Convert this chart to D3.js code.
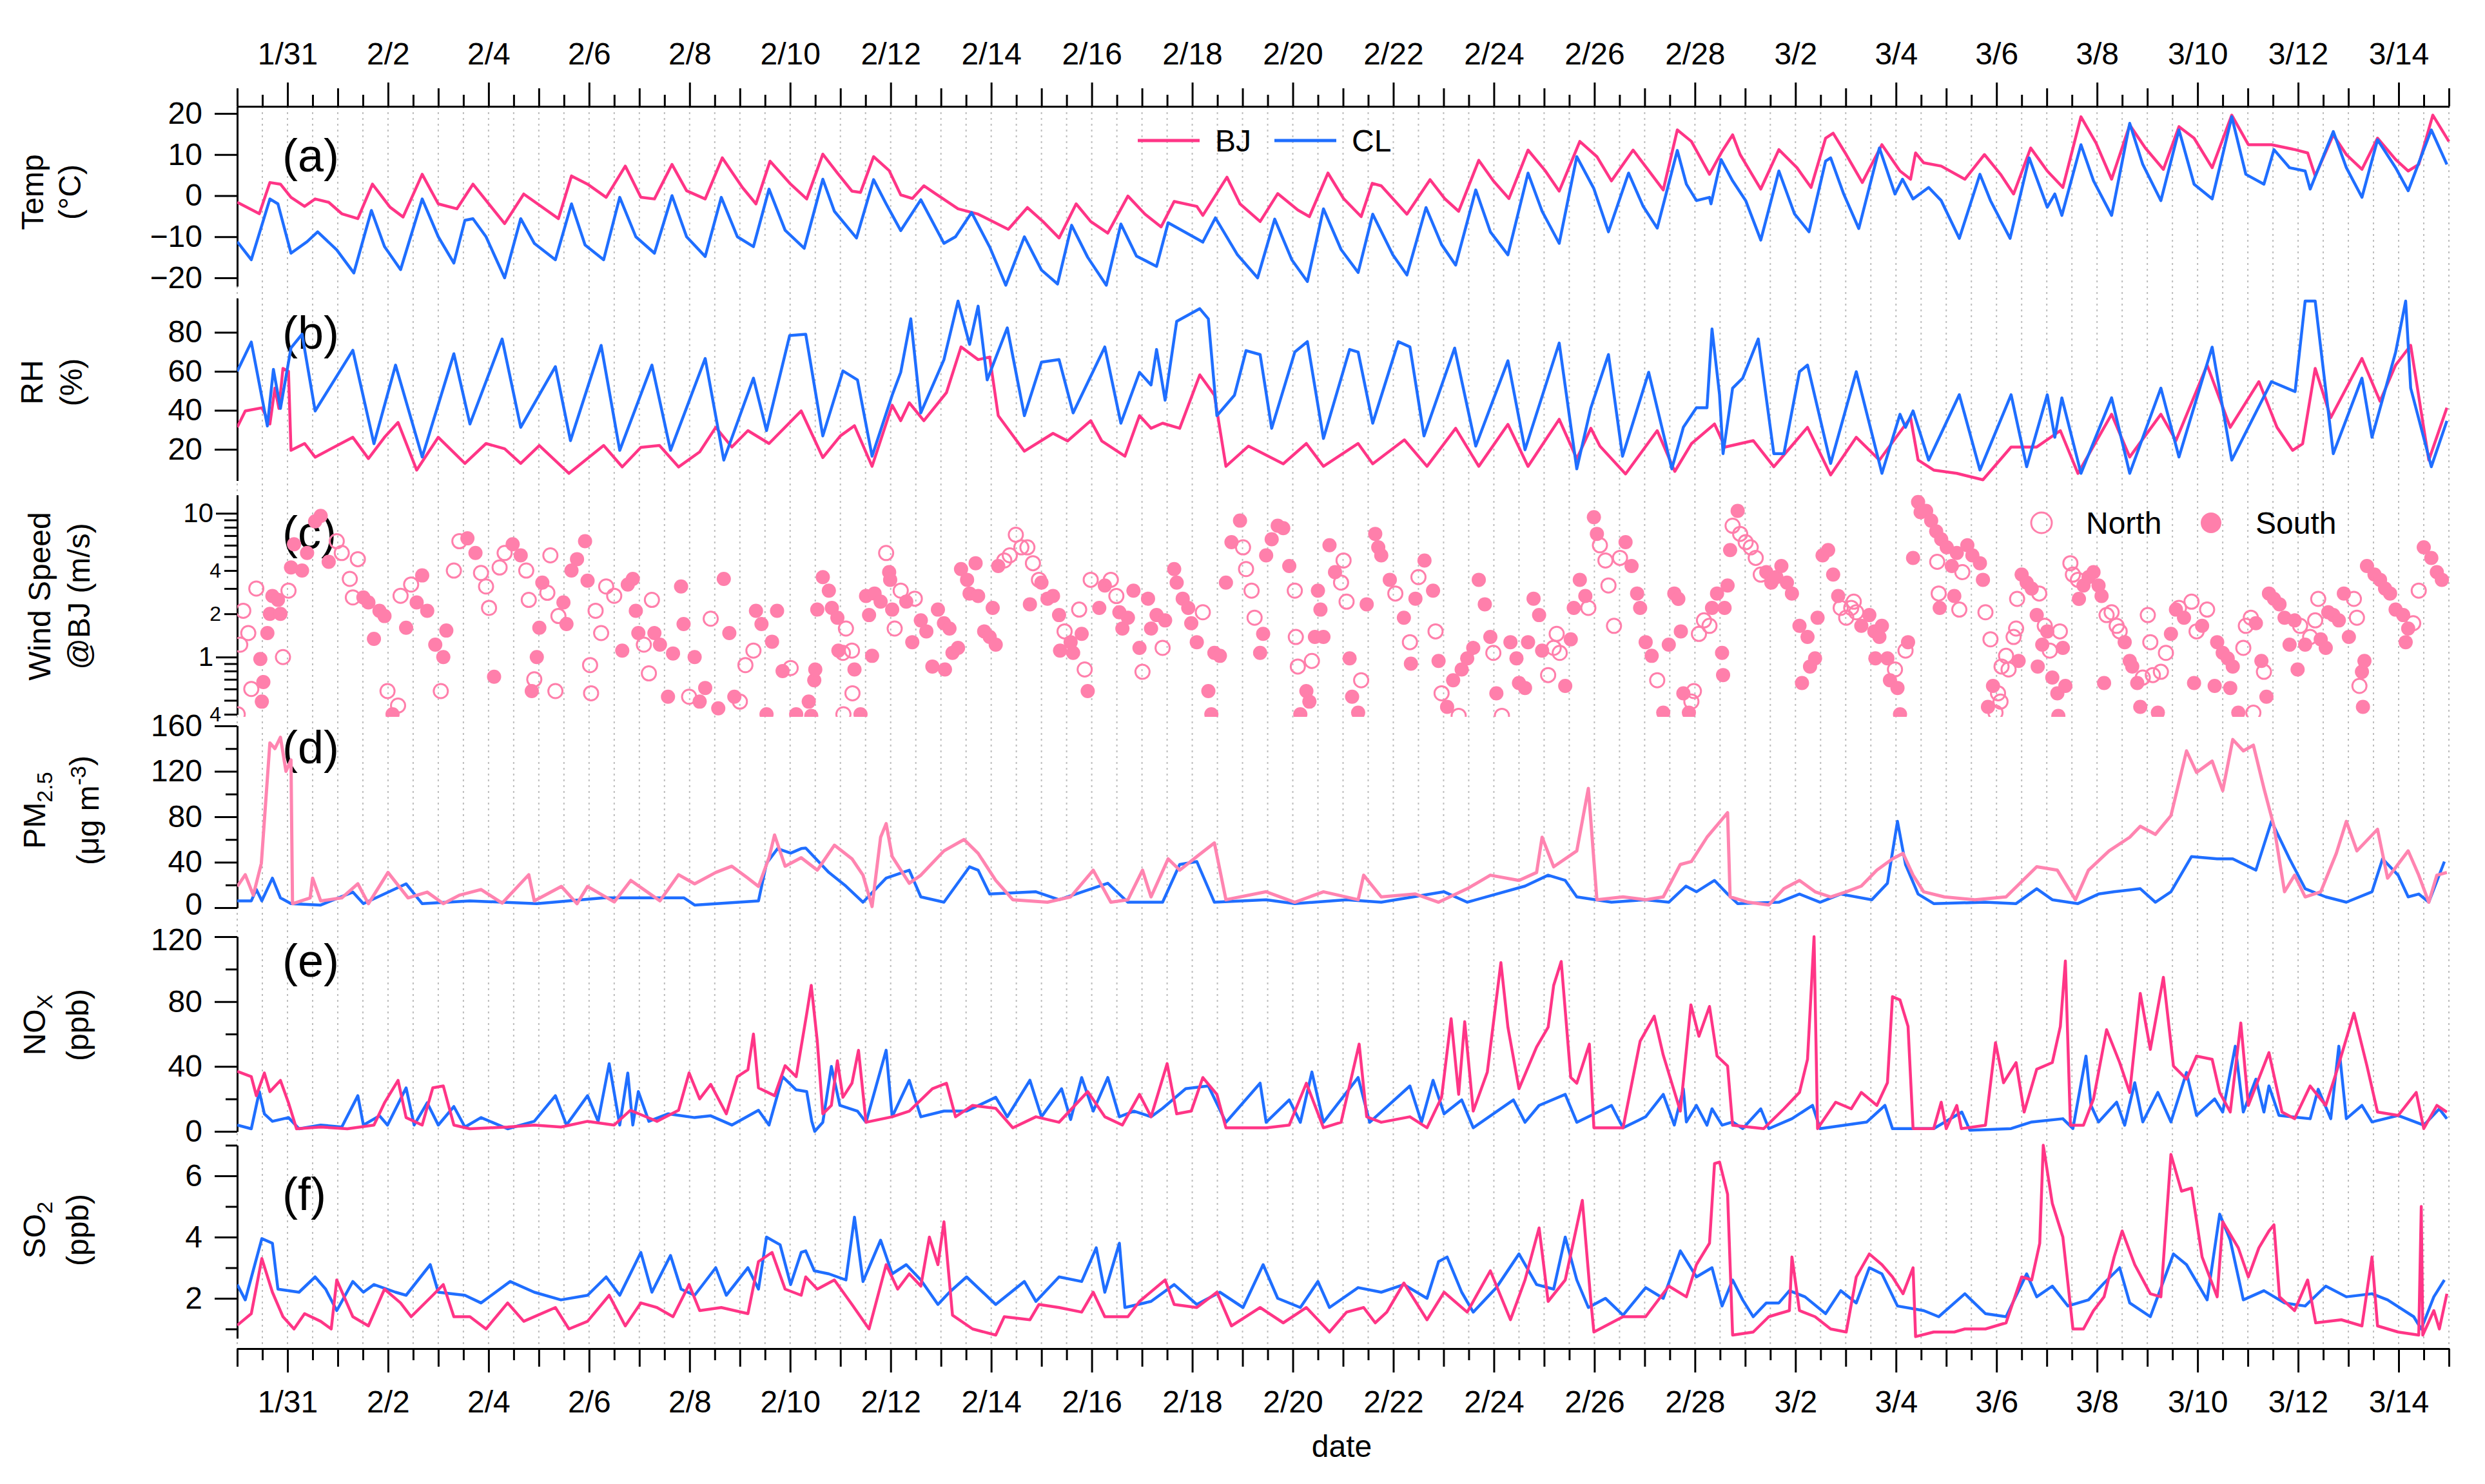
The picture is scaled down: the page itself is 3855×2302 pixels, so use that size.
<!DOCTYPE html>
<html><head><meta charset="utf-8">
<script src="https://cdn.jsdelivr.net/npm/d3@7"></script>
<style>
body{margin:0;background:#fff}
text{font-family:Arial,"Liberation Sans",sans-serif;fill:#000}
</style></head>
<body><svg id="c" width="3855" height="2302"></svg>
<script>
// ---------- data (day offset since 1/30 00:00, value) ----------
const tempBJ=[[0,-1.6],[0.44,-4.4],[0.65,3.2],[0.86,2.8],[1.07,-0.4],[1.34,-2.6],[1.55,-0.8],[1.82,-1.6],[2.08,-4.4],[2.4,-5.6],[2.69,2.8],[3.04,-2.8],[3.3,-5.2],[3.68,5.2],[4.0,-2],[4.37,-3.2],[4.69,2.8],[5.32,-6.8],[5.7,0.4],[6.39,-5.6],[6.65,4.8],[6.97,2.8],[7.34,-0.4],[7.72,7.2],[8.03,-0.4],[8.3,-0.8],[8.65,7.6],[8.94,1.2],[9.31,-0.8],[9.65,9.2],[10.05,2],[10.32,-2],[10.6,8.4],[11.01,2.8],[11.33,-0.8],[11.65,10.1],[11.94,5.5],[12.23,1.1],[12.4,0.8],[12.66,9.5],[12.97,6.1],[13.2,0.2],[13.43,-0.7],[13.66,2.4],[13.89,0.5],[14.34,-3.2],[14.74,-4.5],[15.34,-8.2],[15.72,-2.9],[16.03,-6.3],[16.35,-10.3],[16.69,-2],[16.98,-6.3],[17.32,-9.1],[17.72,-0.1],[18.06,-4.5],[18.38,-7.6],[18.64,-1.4],[19.09,-2.6],[19.21,-4.8],[19.69,4.5],[19.95,-2],[20.35,-6.3],[20.7,0.5],[21.1,-3.5],[21.33,-5.1],[21.7,5.5],[22.01,-0.7],[22.36,-5.1],[22.58,3],[22.76,2.4],[23.27,-4.5],[23.73,3.9],[24.02,-0.7],[24.3,-3.8],[24.7,8.6],[24.99,3.6],[25.3,-0.7],[25.68,11.1],[26.02,6.1],[26.3,1.1],[26.71,13.2],[27.05,9.5],[27.34,3.6],[27.77,11.1],[28.08,6.1],[28.37,1.4],[28.65,16],[28.93,13.2],[29.29,5.2],[29.54,10.8],[29.75,14.8],[29.9,10],[30.31,1.6],[30.67,11.2],[31.03,6.8],[31.31,2],[31.6,14],[31.75,15.2],[32.01,10],[32.33,3.2],[32.72,12.4],[33.08,6],[33.29,4],[33.39,10.4],[33.55,8],[33.9,7.2],[34.37,4],[34.76,10],[35.08,5.2],[35.34,0.4],[35.68,11.6],[36.01,6],[36.32,2],[36.68,19.2],[36.98,12.8],[37.29,4],[37.65,17.2],[37.96,11.6],[38.32,6.4],[38.63,16.8],[38.93,14],[39.29,6.8],[39.68,19.6],[40.01,12.4],[40.47,12.4],[40.94,11.2],[41.19,10.4],[41.34,4.8],[41.7,14.8],[41.96,10],[42.27,6.4],[42.58,14],[42.94,8.8],[43.19,6],[43.4,7.6],[43.68,19.6],[44,13.2]];
const tempCL=[[0,-11.2],[0.28,-15.6],[0.65,-0.8],[0.81,-2],[1.07,-14],[1.39,-11.2],[1.6,-8.8],[1.98,-13.2],[2.32,-18.8],[2.67,-3.6],[2.93,-12.4],[3.25,-18],[3.68,-0.8],[4.0,-10],[4.31,-16.4],[4.53,-6],[4.69,-5.6],[4.95,-10],[5.32,-20],[5.64,-5.6],[5.91,-11.6],[6.33,-15.6],[6.65,-2],[6.92,-12],[7.29,-15.6],[7.61,-0.4],[7.93,-10],[8.3,-14],[8.65,0],[8.94,-10],[9.31,-14.8],[9.63,-0.4],[9.95,-10],[10.27,-12.4],[10.58,1.6],[10.9,-8.4],[11.28,-12.8],[11.65,4],[11.88,-3.8],[12.32,-10.3],[12.66,3.9],[12.91,-2],[13.2,-8.5],[13.6,-1],[14.06,-11.6],[14.29,-10],[14.61,-4.1],[14.97,-12.5],[15.29,-21.8],[15.66,-10],[16,-18.1],[16.32,-21.5],[16.6,-7.2],[16.92,-15],[17.29,-21.8],[17.58,-6.9],[17.89,-14.7],[18.29,-17.2],[18.52,-6.6],[19.21,-11.3],[19.46,-5.4],[19.9,-14.4],[20.3,-20],[20.64,-5.7],[20.98,-15.6],[21.29,-20.9],[21.61,-3.2],[21.96,-13.1],[22.3,-18.7],[22.59,-4.5],[22.99,-14.4],[23.27,-19.3],[23.65,-2.9],[23.96,-11.9],[24.24,-16.9],[24.64,1.4],[24.93,-8.8],[25.28,-14.4],[25.68,5.5],[25.96,-3.8],[26.3,-11.6],[26.65,9.5],[26.99,1.7],[27.28,-8.8],[27.68,5.5],[27.97,-2.6],[28.25,-7.9],[28.65,11],[28.83,2.8],[29.03,-1.2],[29.29,-0.4],[29.32,-2],[29.52,8.8],[29.75,3.6],[30.01,-1.2],[30.31,-10.8],[30.67,6],[30.98,-4.4],[31.27,-8.8],[31.6,8.4],[31.7,9.2],[31.96,0.4],[32.26,-8],[32.67,11.6],[32.98,0.4],[33.13,4],[33.34,-0.8],[33.65,2],[33.9,-1.2],[34.26,-10.4],[34.67,5.2],[34.88,-1.2],[35.27,-10.4],[35.65,9.2],[36.01,-2.8],[36.16,0.4],[36.3,-4.8],[36.68,12.4],[36.93,3.6],[37.29,-4.8],[37.65,17.6],[37.91,7.6],[38.27,-1.2],[38.63,16],[38.93,2.8],[39.29,-0.8],[39.68,19.2],[39.96,5.2],[40.32,2.8],[40.52,11.2],[40.83,6.8],[41.14,6],[41.24,1.6],[41.7,15.6],[41.96,6.8],[42.27,-0.4],[42.58,13.6],[42.94,6.8],[43.19,1.2],[43.65,16],[43.96,7.6]];
const rhBJ=[[0,31.3],[0.16,39.7],[0.49,41.3],[0.65,33],[0.75,51.4],[0.83,41],[0.91,61.5],[1.02,60],[1.07,19.5],[1.34,23],[1.55,16],[2.3,26.2],[2.61,15.3],[2.93,26.2],[3.2,33.8],[3.57,9.4],[4.0,26.2],[4.53,12.8],[4.95,23],[5.32,20.3],[5.64,12.8],[6.01,22],[6.6,7.7],[7.29,22],[7.66,11],[8.03,21],[8.4,22],[8.78,11],[9.2,18.7],[9.52,31.3],[9.84,21.2],[10.16,29.6],[10.58,23],[11.22,39.7],[11.65,15.8],[12,26.9],[12.28,32.1],[12.63,11.3],[13.03,42.6],[13.2,34.7],[13.37,43.9],[13.66,34.7],[14.11,49.1],[14.4,72.5],[14.74,66],[14.97,67.3],[15.14,37.3],[15.66,19.1],[16.23,28.2],[16.52,24.3],[16.98,34.7],[17.2,24.3],[17.66,16.5],[17.95,37.3],[18.18,30.8],[18.41,33.4],[18.75,30.8],[19.15,58.2],[19.44,47.8],[19.67,11.3],[20.12,21.7],[20.81,12.6],[21.27,23],[21.61,11.3],[22.3,23],[22.59,12.6],[23.22,24.9],[23.67,11.3],[24.24,30.8],[24.7,11.3],[25.28,32.8],[25.68,11.3],[26.3,35.4],[26.65,15.2],[26.93,30.8],[27.11,21.7],[27.62,7.4],[28.25,29.6],[28.6,8.7],[28.93,22.9],[29.39,33],[29.6,21.2],[30.16,24.5],[30.57,11.1],[31.24,31.3],[31.7,6.9],[32.21,26.2],[32.67,14.5],[33.29,36.3],[33.44,14.5],[33.75,9.4],[34.21,7.7],[34.73,4.4],[35.29,21.2],[35.8,21.2],[36.27,29.6],[36.62,7.7],[37.29,38],[37.65,16.1],[38.27,38],[38.57,24.5],[39.19,63.2],[39.65,31.3],[40.22,54.7],[40.58,31.3],[40.89,19.5],[41.09,22.9],[41.34,61.5],[41.65,36.3],[42.27,66.6],[42.63,44.7],[42.94,63.2],[43.24,73.3],[43.6,14.5],[43.96,41.3]];
const rhCL=[[0,60],[0.28,75],[0.6,32],[0.72,61],[0.86,41],[1.07,72],[1.29,79],[1.55,39.7],[2.3,70.8],[2.72,22.9],[3.15,63.2],[3.68,16.1],[4.31,69],[4.63,33],[5.27,76.6],[5.64,31.3],[6.33,62.4],[6.63,24.5],[7.24,73.3],[7.61,19.5],[8.25,63.2],[8.62,19.5],[9.31,66.6],[9.68,14.5],[10.27,56.5],[10.53,29.6],[10.99,78.3],[11.31,79],[11.65,26.9],[12.05,60.2],[12.34,55.6],[12.63,16.5],[13.03,47.8],[13.2,59.5],[13.4,86.9],[13.6,38.7],[14.06,66],[14.34,96],[14.57,73.8],[14.74,93.4],[14.92,55.6],[15.32,82.3],[15.66,37.3],[16,64.7],[16.35,66],[16.63,38.7],[17.26,72.5],[17.58,33.4],[17.95,59.5],[18.18,53],[18.29,71.2],[18.46,45.2],[18.69,85.6],[19.15,92.1],[19.32,86.9],[19.49,37.3],[19.84,47.8],[20.07,70.6],[20.35,68.6],[20.58,30.8],[21.04,69.9],[21.29,75.2],[21.61,25.6],[22.13,71.2],[22.3,69.9],[22.59,33.4],[23.1,75.2],[23.33,72.5],[23.61,26.9],[24.22,71.9],[24.64,21.7],[25.28,65.4],[25.62,19.8],[26.3,74.5],[26.65,10],[26.93,41.3],[27.28,68.6],[27.56,16.5],[28.08,59.5],[28.54,10],[28.77,31.3],[29.03,41.3],[29.24,41.3],[29.34,81.7],[29.49,48],[29.56,17.8],[29.75,51.4],[29.95,56.5],[30.26,76.6],[30.57,17.8],[30.77,17.8],[31.08,59.8],[31.24,63.2],[31.7,12.8],[32.21,59.8],[32.72,7.7],[33.08,38],[33.19,31.3],[33.34,39.7],[33.65,14.5],[34.26,48],[34.67,9.4],[35.29,48],[35.6,11.1],[36.01,48],[36.16,26.2],[36.3,46.4],[36.68,7.7],[37.29,46.4],[37.65,7.7],[38.27,51.4],[38.63,16.1],[39.29,72.4],[39.68,14.5],[40.47,54.7],[40.94,49.6],[41.14,96],[41.34,96],[41.7,17.8],[42.27,56.5],[42.47,26.2],[42.94,69.8],[43.14,96],[43.24,51.4],[43.65,11.1],[43.96,34.6]];
const windObs=[ // [day, speed m/s, 1 = South (filled), 0 = North (open)]
[0.01,0.4,0],[0.06,1.22,0],[0.12,2.1,0],[0.22,1.47,0],[0.28,0.6,0],[0.38,3.0,0],[0.46,0.97,1],[0.49,0.49,1],[0.52,0.67,1],[0.6,1.47,1],[0.65,2.0,1],[0.7,2.66,1],[0.81,2.5,1],[0.86,2.0,1],[0.91,1.0,0],[1.02,2.9,0],[1.07,4.2,1],[1.13,6.1,1],[1.29,4.0,1],[1.39,5.3,1],[1.55,8.8,1],[1.66,9.6,1],[1.82,4.6,1],[1.98,6.4,0],[2.08,5.3,0],[2.24,3.5,0],[2.3,2.6,0],[2.4,4.8,0],[2.51,2.6,1],[2.61,2.4,1],[2.72,1.34,1],[2.83,2.1,1],[2.93,1.93,1],[2.99,0.58,0],[3.09,0.4,1],[3.2,0.46,0],[3.25,2.67,0],[3.36,1.6,1],[3.46,3.2,0],[3.57,2.4,1],[3.68,3.7,1],[3.78,2.1,1],[3.94,1.22,1],[4.05,0.58,0],[4.1,1.0,1],[4.16,1.53,1],[4.31,4.0,0],[4.42,6.4,0],[4.58,6.7,1],[4.74,5.3,1],[4.85,3.85,0],[4.95,3.1,0],[5.01,2.2,0],[5.11,0.73,1],[5.22,4.2,0],[5.32,5.3,0],[5.48,6.1,1],[5.64,5.1,1],[5.75,4.0,0],[5.8,2.5,0],[5.86,0.58,1],[5.91,0.7,0],[5.96,1.0,1],[6.01,1.6,1],[6.07,3.3,1],[6.17,2.8,0],[6.23,5.1,0],[6.33,0.58,0],[6.39,1.93,0],[6.49,2.4,1],[6.55,1.7,1],[6.65,4.0,1],[6.76,4.8,1],[6.92,6.4,1],[6.97,3.4,1],[7.02,0.88,0],[7.04,0.56,0],[7.13,2.1,0],[7.24,1.47,0],[7.34,3.1,0],[7.5,2.67,0],[7.66,1.11,1],[7.77,3.2,1],[7.87,3.5,1],[7.93,2.1,1],[7.98,1.47,1],[8.09,1.22,0],[8.19,0.77,0],[8.25,2.5,0],[8.3,1.47,1],[8.41,1.22,1],[8.57,0.53,1],[8.67,1.06,1],[8.83,3.1,1],[8.88,1.7,1],[8.99,0.53,0],[9.1,1.0,1],[9.2,0.49,1],[9.31,0.61,1],[9.42,1.85,0],[9.57,0.44,1],[9.68,3.5,1],[9.79,1.47,1],[9.89,0.53,1],[10.0,0.49,0],[10.11,0.88,0],[10.27,1.11,0],[10.32,2.1,1],[10.43,1.7,1],[10.53,0.4,1],[10.64,1.28,1],[10.74,2.1,1],[10.85,0.8,1],[11.01,0.84,0],[11.12,0.4,1],
[11.37,0.49,1],[11.42,0.39,1],[11.48,0.69,1],[11.5,0.82,1],[11.54,2.14,1],[11.65,3.6,1],[11.77,2.9,1],[11.83,2.2,1],[11.94,1.88,1],[11.96,1.11,1],[12.05,1.07,0],[12.06,0.4,0],[12.11,1.58,0],[12.23,1.11,0],[12.24,0.56,0],[12.28,0.82,1],[12.4,0.4,1],[12.51,2.66,1],[12.57,1.96,1],[12.63,1.02,1],[12.68,2.77,1],[12.8,2.43,1],[12.91,5.3,0],[12.97,3.9,1],[12.99,3.45,1],[13.03,2.14,1],[13.08,1.58,0],[13.2,2.9,0],[13.31,2.43,1],[13.43,1.27,1],[13.48,2.55,0],[13.6,1.8,1],[13.71,1.51,1],[13.83,0.86,1],[13.94,2.14,1],[14.06,1.72,1],[14.08,0.82,1],[14.17,1.58,1],[14.23,1.07,1],[14.34,1.16,1],[14.4,4.1,1],[14.52,3.45,1],[14.57,2.77,1],[14.69,4.5,1],[14.74,2.66,1],[14.86,1.51,1],[14.97,1.38,1],[15.03,2.2,1],[15.09,1.22,1],[15.14,4.3,1],[15.26,4.7,0],[15.37,5.1,0],[15.49,7.1,0],[15.6,5.8,0],[15.72,5.8,0],[15.77,2.33,1],[15.83,4.5,0],[15.95,3.45,0],[16.0,3.3,1],[16.12,2.55,1],[16.23,2.66,1],[16.35,1.96,1],[16.37,1.11,1],[16.46,1.51,0],[16.58,1.27,1],[16.63,1.07,1],[16.75,2.14,0],[16.8,1.45,1],[16.86,0.82,0],[16.92,0.58,1],[16.98,3.45,0],[17.15,2.2,1],[17.26,3.15,1],[17.38,3.45,0],[17.49,2.66,0],[17.55,2.05,1],[17.61,1.58,1],[17.72,1.88,1],[17.83,2.9,1],[17.95,1.16,1],[18.01,0.79,0],[18.12,2.55,1],[18.18,1.58,1],[18.29,1.96,1],[18.41,1.16,0],[18.46,1.8,1],[18.64,4.1,1],[18.69,3.3,1],[18.81,2.55,1],[18.92,2.2,1],[18.98,1.72,1],[19.09,1.27,1],[19.21,2.05,0],[19.32,0.58,1],[19.38,0.4,1],[19.44,1.07,1],[19.55,1.02,1],[19.67,3.3,1],[19.78,6.3,1],[19.95,8.9,1],[20.01,5.8,0],[20.07,4.1,0],[20.18,2.9,0],[20.24,1.88,0],[20.35,1.07,1],[20.41,1.45,1],[20.47,5.1,1],[20.58,6.6,1],[20.7,8.2,1],[20.81,7.9,1],[20.93,4.3,1],[21.04,2.9,0],[21.06,1.38,0],[21.1,0.86,0],[21.15,0.4,1],[21.27,0.58,1],[21.33,0.49,1],[21.38,0.94,0],[21.44,1.38,1],[21.5,2.9,1],[21.55,2.14,1],[21.61,1.38,1],[21.73,6.0,1],[21.84,3.9,1],[21.96,3.3,0],[22.01,4.7,0],[22.07,2.43,0],[22.13,0.98,1],[22.18,0.53,1],[22.3,0.41,1],[22.36,0.69,0],[22.47,2.33,1],[22.64,7.2,1],[22.7,5.8,1],[22.76,5.1,1],[22.93,3.45,1],[23.04,2.77,0],[23.21,1.88,1],[23.33,1.27,0],[23.35,0.9,1],[23.44,2.55,1],[23.5,3.6,0],[23.62,4.7,1],[23.79,2.9,1],[23.84,1.51,0],[23.9,0.94,1],[23.96,0.56,0],[24.07,0.45,1],[24.19,0.69,1],[24.3,0.39,0],[24.36,0.82,1],[24.47,0.98,1],[24.59,1.16,1],[24.7,3.45,1],[24.82,2.33,1],[24.93,1.38,1],[24.99,1.07,0],[25.05,0.56,1],[25.16,0.39,0],[25.33,1.27,1],[25.45,0.98,1],[25.5,0.66,1],[25.62,0.61,1],[25.68,1.27,1],[25.79,2.55,1],[25.9,1.96,1],[25.96,1.11,1],[26.08,0.75,0],[26.19,1.16,0],[26.25,1.45,0],[26.31,1.07,0],[26.42,0.63,1],[26.53,1.33,1],[26.59,2.2,1],[26.71,3.45,1],[26.82,2.66,1],[26.88,2.2,0],[26.99,9.4,1],[27.05,7.2,1],[27.11,6.0,0],[27.22,4.7,0],[27.28,3.15,0],[27.39,1.65,0],[27.51,4.9,0],[27.62,6.3,1],[27.74,4.3,1],[27.85,2.77,1],[27.91,2.2,1],[28.02,1.27,1],[28.14,1.02,1],[28.25,0.69,0],[28.37,0.41,1],[28.48,1.22,1],[28.59,2.77,1],
[28.67,2.54,1],[28.72,1.51,1],[28.77,0.56,1],[28.88,0.41,1],[28.93,0.49,0],[28.98,0.58,0],[29.08,1.45,0],[29.18,1.8,0],[29.29,1.65,0],[29.34,2.2,1],[29.44,2.77,1],[29.54,1.07,1],[29.56,0.75,1],[29.59,2.2,1],[29.65,3.15,1],[29.7,5.55,1],[29.75,8.2,0],[29.85,10.4,1],[29.9,7.2,0],[30.01,6.3,0],[30.11,5.8,0],[30.21,4.9,0],[30.31,3.75,0],[30.42,3.9,1],[30.52,3.3,1],[30.62,3.6,1],[30.72,4.3,1],[30.83,3.3,1],[30.93,2.77,1],[31.08,1.65,1],[31.13,0.66,1],[31.24,1.38,1],[31.29,0.86,1],[31.39,0.98,1],[31.44,1.88,1],[31.54,5.1,1],[31.65,5.55,1],[31.75,3.75,1],[31.85,2.66,1],[31.9,2.2,0],[32.01,1.88,0],[32.11,2.2,0],[32.16,2.43,0],[32.21,2.05,0],[32.31,1.65,1],[32.47,1.96,1],[32.57,1.51,1],[32.59,0.98,1],[32.67,1.38,1],[32.72,1.65,1],[32.83,0.98,1],[32.88,0.69,1],[32.98,0.82,0],[33.03,0.61,1],[33.08,0.4,1],[33.19,1.11,0],[33.24,1.27,1],[33.34,4.9,1],[33.44,12.0,1],[33.49,10.2,1],[33.6,10.4,1],[33.7,8.9,1],[33.8,7.5,1],[33.82,4.6,0],[33.85,2.77,0],[33.87,2.2,1],[33.9,6.6,1],[34.01,5.8,1],[34.11,4.3,1],[34.16,2.66,1],[34.21,5.3,1],[34.26,2.14,0],[34.32,3.9,0],[34.42,6.0,1],[34.52,5.1,1],[34.67,4.5,1],[34.73,3.45,1],[34.78,2.05,0],[34.83,0.45,1],[34.88,1.33,0],[34.93,0.63,1],[34.98,0.41,0],[35.03,0.56,0],[35.08,0.49,0],[35.1,0.86,0],[35.19,1.02,0],[35.24,0.82,0],[35.34,1.38,0],[35.39,1.58,0],[35.41,2.54,0],[35.44,0.94,1],[35.5,3.75,1],[35.6,3.3,1],[35.7,3.0,1],[35.8,1.96,1],[35.82,0.86,1],[35.85,2.77,0],[35.91,1.22,1],[35.96,1.65,0],[36.01,1.51,1],[36.06,1.11,0],[36.11,0.72,1],[36.21,0.56,1],[36.23,0.39,1],[36.26,1.51,0],[36.32,1.16,1],[36.37,0.63,1],[36.47,4.5,0],[36.52,3.75,0],[36.62,3.45,0],[36.64,2.54,1],[36.73,3.15,1],[36.83,3.6,1],[36.93,3.9,1],[37.03,3.15,1],[37.09,2.66,1],[37.14,0.66,1],[37.19,1.96,0],[37.29,2.05,0],[37.39,1.65,0],[37.45,1.51,0],[37.55,1.27,1],[37.65,0.94,1],[37.7,0.86,1],[37.8,0.66,1],[37.86,0.45,1],[37.91,0.72,0],[38.01,1.96,0],[38.06,1.27,0],[38.11,0.75,0],[38.21,0.41,1],[38.27,0.79,0],[38.37,1.07,0],[38.47,1.45,1],[38.57,2.14,1],[38.63,2.2,0],[38.73,1.88,1],[38.88,2.43,0],[38.93,0.66,1],[38.98,1.51,0],[39.09,1.65,1],[39.19,2.14,0],[39.34,0.63,1],[39.39,1.27,1],[39.5,1.07,1],[39.6,0.98,1],[39.65,0.61,1],[39.7,0.86,1],[39.81,0.41,1],[39.91,1.16,0],[39.96,1.65,0],[40.06,1.88,0],[40.11,0.41,0],[40.16,1.72,1],[40.27,0.94,1],[40.32,0.79,0],[40.37,0.53,1],[40.42,2.77,1],[40.52,2.54,1],[40.63,2.33,1],[40.73,1.88,1],[40.83,1.22,1],[40.93,1.8,1],[40.99,0.82,1],[41.04,1.65,0],[41.14,1.22,1],[41.24,1.38,0],[41.34,1.8,0],[41.4,2.54,0],[41.45,1.33,1],[41.55,1.16,1],[41.6,2.05,1],[41.7,1.96,1],[41.81,1.8,1],[41.91,2.77,1],[42.01,1.38,1],[42.11,2.54,0],[42.17,1.88,0],[42.22,0.63,0],[42.27,0.79,1],[42.29,0.45,1],[42.32,0.94,1],[42.37,4.3,1],[42.52,3.75,1],[42.63,3.45,1],[42.73,3.0,1],[42.83,2.77,1],[42.94,2.14,1],[43.09,1.96,1],[43.14,1.27,1],[43.19,1.58,1],[43.29,1.72,0],[43.4,2.9,0],[43.5,5.8,1],[43.65,4.9,1],[43.76,3.9,1],[43.86,3.45,1]];
const pmBJ=[[0,18.7],[0.16,29],[0.32,11],[0.48,39],[0.65,145],[0.75,140],[0.86,150],[0.97,120],[1.07,130],[1.1,3.5],[1.45,8.6],[1.5,26],[1.66,6],[2.08,8.6],[2.4,21],[2.61,3.5],[3.0,31],[3.4,8.6],[3.78,13.7],[4.1,3.5],[4.42,11],[4.85,16],[5.27,4],[5.8,29],[5.91,6],[6.45,18.7],[6.76,3.5],[6.97,18.7],[7.5,5],[7.83,24],[8.41,6],[8.78,29],[9.1,21],[9.52,31],[9.84,36.5],[10.16,26],[10.37,18.7],[10.58,44],[10.69,64],[10.9,36.5],[11.22,44],[11.54,33],[11.88,55],[12.23,43],[12.45,28.6],[12.63,1],[12.8,62],[12.91,74],[13.03,45],[13.37,21.5],[13.6,28.6],[14.06,50],[14.46,60],[14.74,47.8],[15.09,24],[15.43,7],[16.12,4.8],[16.58,9.5],[17.03,33],[17.38,4.8],[17.72,7],[18.01,33],[18.18,9.5],[18.52,43],[18.75,33],[19.09,45],[19.44,57],[19.67,7],[20.47,14],[21.04,4.8],[21.61,14],[22.3,7],[22.41,28.6],[22.76,9.5],[23.44,12],[23.9,4.8],[24.47,16.7],[24.93,28.6],[25.5,24],[25.85,31],[25.96,62],[26.19,36],[26.65,50],[26.88,105],[27.05,7],[27.57,9.5],[28.02,7],[28.37,9.5],[28.71,38],[28.93,40.6],[29.24,62],[29.65,83.6],[29.7,9.5],[30.06,4.8],[30.47,2.4],[30.77,16.7],[31.08,24],[31.39,14],[31.7,9.5],[32.01,14],[32.31,19],[32.62,33],[32.93,43],[33.14,47.8],[33.34,28.6],[33.55,14],[33.96,9.5],[34.57,7],[35.19,9.5],[35.8,36],[36.21,33],[36.57,7],[36.83,33],[37.24,50],[37.65,62],[37.86,71.6],[38.16,64.5],[38.47,81],[38.78,138],[38.98,119],[39.29,129],[39.5,103],[39.7,148],[39.91,138],[40.11,143],[40.32,105],[40.52,71.6],[40.73,14],[40.93,28.6],[41.14,9.5],[41.45,14],[41.76,47.8],[41.96,76],[42.17,50],[42.58,69],[42.78,26],[43.19,50],[43.4,28.6],[43.6,4.8],[43.76,28.6],[43.96,31]];
const pmCL=[[0,6],[0.28,6],[0.38,16],[0.49,6],[0.7,26],[0.86,8.6],[1.07,3.5],[1.66,2.3],[2.3,13.7],[2.51,3.5],[3.36,21],[3.68,3.5],[4.63,6],[5.96,3.5],[7.29,8.6],[8.89,8.6],[9.1,2.3],[10.37,6],[10.53,39],[10.75,52],[11.01,48],[11.22,52],[11.31,52.5],[11.77,31],[12.11,19],[12.45,4.8],[12.91,26],[13.37,33],[13.6,9.5],[14.06,4.8],[14.57,36],[14.74,33],[14.97,12],[15.89,14],[16.35,7],[17.32,21.5],[17.72,4.8],[18.41,4.8],[18.75,38],[19.09,40.6],[19.44,4.8],[20.47,7],[21.04,3.6],[22.07,7],[22.76,4.8],[24.01,14],[24.47,4.8],[25.62,19],[26.08,28.6],[26.42,24],[26.65,9.5],[27.34,4.8],[28.02,7],[28.48,4.8],[28.82,19],[29.03,14],[29.39,24],[29.65,12],[29.85,3.6],[30.67,4.8],[31.08,12],[31.49,4.8],[31.9,12],[32.52,7],[32.83,21.5],[33.03,76],[33.19,38],[33.44,12],[33.75,3.6],[34.78,4.8],[35.39,3.6],[35.8,16.7],[36.11,7],[36.62,3.6],[37.03,12],[37.34,14],[37.86,16.7],[38.16,4.8],[38.47,14],[38.88,45],[39.39,43],[39.7,43],[40.16,33],[40.47,76],[40.83,43],[41.14,16.7],[41.55,9.5],[41.96,4.8],[42.47,14],[42.68,43],[42.99,28.6],[43.19,9.5],[43.4,12],[43.6,4.8],[43.91,40.6]];
const noxBJ=[[0,37],[0.28,33.7],[0.38,22],[0.54,36],[0.65,24.5],[0.86,31.4],[1.02,17.6],[1.18,1.6],[1.66,2.7],[2.19,1.6],[2.72,3.9],[2.93,17.6],[3.2,31.4],[3.36,8.5],[3.68,3.9],[3.89,26.8],[4.1,28],[4.31,3.9],[4.63,1.6],[5.38,2.7],[5.91,3.9],[6.44,2.7],[6.97,6.2],[7.5,3.9],[7.82,13],[8.35,6.2],[8.78,13],[8.99,36],[9.2,20],[9.42,29],[9.73,10.8],[9.95,33.7],[10.16,38],[10.27,60],[10.37,26.8],[10.69,22],[10.9,40.5],[11.12,33.7],[11.33,72.6],[11.42,90],[11.54,55.6],[11.65,10.8],[11.82,16],[11.94,43.5],[12.05,21],[12.23,29.7],[12.36,50],[12.51,5.6],[13.03,9],[13.37,12.5],[13.83,26.3],[14.11,29.7],[14.29,9],[14.63,16],[15.09,14.2],[15.43,2.2],[15.89,9],[16.35,5.6],[16.92,24.5],[17.26,9],[17.61,3.9],[17.95,22.8],[18.18,9],[18.5,41.8],[18.69,10.8],[18.98,12.5],[19.21,33.2],[19.49,22.8],[19.67,2.2],[20.47,2.2],[20.93,3.9],[21.27,29.7],[21.61,2.2],[21.96,5.6],[22.32,53.8],[22.47,9],[22.76,5.6],[23.33,9],[23.67,2.2],[23.96,21],[24.15,69.4],[24.3,22.8],[24.42,67.6],[24.59,12.5],[24.87,36.6],[25.14,104],[25.28,64.2],[25.5,26.3],[25.85,52],[26.08,64.2],[26.19,90],[26.34,104.7],[26.53,33.2],[26.65,29.7],[26.9,53.8],[26.99,2.2],[27.57,2.2],[27.91,55.6],[28.19,71],[28.37,47],[28.71,12.5],[28.92,78],[29.08,58.6],[29.29,77],[29.44,46.4],[29.65,40.3],[29.75,3.8],[30.37,1.7],[30.77,13.9],[31.08,24],[31.24,44.4],[31.37,120],[31.44,1.7],[31.8,18],[32.11,13.9],[32.31,24],[32.62,16],[32.83,30],[32.93,83],[33.08,81],[33.24,64.7],[33.34,1.7],[33.75,1.7],[33.9,18],[34.0,1.7],[34.21,16],[34.3,1.7],[34.78,3.8],[34.98,54.6],[35.14,30],[35.39,42.4],[35.55,11.9],[35.8,38.3],[36.11,42.4],[36.27,64.7],[36.37,105],[36.47,3.8],[36.73,3.8],[36.93,20],[37.19,62.7],[37.45,42.4],[37.65,24],[37.86,85],[38.06,50.5],[38.32,95],[38.52,40.3],[38.78,32.2],[38.98,46.4],[39.29,44.4],[39.44,24],[39.65,11.9],[39.86,66.8],[40.01,16],[40.42,48.5],[40.68,11.9],[40.93,7.8],[41.24,28],[41.55,16],[41.76,36.3],[42.11,72.9],[42.37,40.3],[42.58,11.9],[42.99,9.8],[43.35,24],[43.5,1.7],[43.76,16],[43.96,11.9]];
const noxCL=[[0,3.9],[0.28,1.6],[0.44,24.5],[0.54,10.8],[0.7,6.2],[1.02,8.5],[1.23,1.6],[1.66,3.9],[2.08,2.7],[2.4,22],[2.51,3.9],[2.83,9.6],[2.99,3.9],[3.36,26.8],[3.52,3.9],[3.78,17.6],[4.0,3.9],[4.31,15.3],[4.53,2.7],[4.85,8.5],[5.38,1.6],[5.91,6.2],[6.33,22],[6.55,3.9],[6.97,22],[7.18,6.2],[7.4,41.7],[7.61,3.9],[7.77,36],[7.87,3.9],[7.98,24.5],[8.19,6.2],[8.57,10.8],[9.1,8.5],[9.42,9.6],[9.84,3.9],[10.37,13],[10.58,3.9],[10.85,33.7],[11.12,25.6],[11.33,24.5],[11.43,6.2],[11.49,0],[11.65,5.6],[11.82,40],[11.99,16],[12.34,12.5],[12.51,5.6],[12.91,50],[13.03,9],[13.37,31.5],[13.6,9],[14.06,12.5],[14.51,12.5],[15.09,21],[15.32,9],[15.77,31.5],[16.0,9],[16.4,26.3],[16.58,7.3],[16.8,33.2],[17.03,12.5],[17.32,33.2],[17.55,9],[17.84,12.5],[18.18,9],[18.41,14.2],[18.87,26.3],[19.32,28],[19.67,5.6],[20.35,29.7],[20.47,5.6],[20.93,19.4],[21.15,5.6],[21.38,36.6],[21.61,5.6],[22.3,33.2],[22.53,5.6],[23.33,28],[23.56,5.6],[23.79,31.5],[24.01,10.8],[24.36,19.4],[24.59,2.2],[25.39,19.4],[25.62,5.6],[25.9,16],[26.42,22.8],[26.65,5.6],[27.34,16],[27.57,2.2],[28.02,9],[28.37,22.8],[28.59,3.9],[28.77,26.3],[28.83,5.8],[29.03,16],[29.24,3.8],[29.34,13.9],[29.54,3.8],[29.75,5.8],[29.95,1.7],[30.31,13.9],[30.47,1.7],[30.93,7.8],[31.34,16],[31.49,1.7],[32.42,5.8],[32.78,16],[32.93,1.7],[33.75,1.7],[34.31,11.9],[34.47,0.7],[35.29,1.7],[35.7,5.8],[36.32,7.8],[36.52,1.7],[36.78,46.4],[36.88,16],[37.03,5.8],[37.39,18],[37.55,3.8],[37.75,30],[37.91,5.8],[38.21,24],[38.47,5.8],[38.78,36.3],[38.98,9.8],[39.34,20],[39.5,11.9],[39.75,52.5],[39.91,11.9],[40.16,32.2],[40.32,11.9],[40.42,28],[40.62,9.8],[41.24,7.8],[41.4,26],[41.65,7.8],[41.81,52.5],[41.96,7.8],[42.27,16],[42.47,5.8],[42.99,9.8],[43.5,3.8],[43.81,13.9],[43.96,7.8]];
const so2BJ=[[0,1.12],[0.28,1.5],[0.49,3.3],[0.7,2.2],[0.91,1.4],[1.13,1.0],[1.34,1.5],[1.66,1.25],[1.87,1.0],[1.98,2.6],[2.3,1.4],[2.61,1.1],[2.93,2.3],[3.25,1.85],[3.46,1.4],[3.89,2.1],[4.1,2.45],[4.31,1.4],[4.63,1.4],[4.95,1.0],[5.38,1.85],[5.7,1.25],[6.33,1.7],[6.6,1.0],[6.97,1.25],[7.4,2.1],[7.72,1.1],[8.03,1.85],[8.35,1.7],[8.67,1.4],[8.99,2.45],[9.2,1.6],[9.63,1.7],[10.16,1.5],[10.37,3.2],[10.64,3.5],[10.9,2.3],[11.22,2.1],[11.31,2.7],[11.54,2.3],[11.88,2.6],[12.23,1.8],[12.57,1.0],[12.91,3.1],[13.14,2.3],[13.37,2.8],[13.6,2.4],[13.77,4.0],[13.94,3.1],[14.06,4.5],[14.23,1.45],[14.63,1.0],[15.09,0.8],[15.26,1.4],[15.77,1.3],[15.95,1.8],[16.35,1.7],[16.8,1.55],[17.03,2.2],[17.26,1.4],[17.72,1.4],[17.95,1.9],[18.46,2.6],[18.64,1.8],[19.09,1.7],[19.49,2.2],[19.78,1.1],[20.35,1.7],[20.81,1.2],[21.27,1.7],[21.73,0.9],[22.07,1.55],[22.41,1.7],[22.64,1.2],[22.87,1.55],[23.21,2.5],[23.67,1.3],[24.01,2.2],[24.47,1.55],[24.93,2.9],[25.33,1.3],[25.62,2.6],[25.9,4.3],[26.08,1.9],[26.42,2.6],[26.76,5.2],[26.93,1.9],[26.99,0.9],[27.57,1.4],[28.02,1.4],[28.48,2.4],[28.83,2.05],[29.03,3.1],[29.29,3.8],[29.39,6.4],[29.49,6.45],[29.65,5.4],[29.75,0.8],[30.16,0.9],[30.47,1.4],[30.67,1.5],[30.88,1.6],[30.93,3.35],[31.08,1.6],[31.39,1.4],[31.7,1.0],[32.01,0.9],[32.21,2.7],[32.47,3.45],[32.72,3.1],[32.93,2.7],[33.14,2.15],[33.34,3.0],[33.39,0.75],[33.75,0.9],[34.16,0.9],[34.37,1.0],[34.78,1.0],[35.19,1.2],[35.5,2.7],[35.7,2.6],[35.86,3.8],[35.93,7.0],[36.11,5.1],[36.32,4.0],[36.52,1.0],[36.73,1.0],[36.93,1.6],[37.14,2.05],[37.34,3.35],[37.5,4.2],[37.75,3.1],[38.06,2.15],[38.27,2.05],[38.47,6.7],[38.68,5.5],[38.88,5.6],[39.09,3.35],[39.39,2.05],[39.5,4.5],[39.81,3.65],[40.01,2.7],[40.22,3.65],[40.42,4.2],[40.52,4.4],[40.63,2.05],[40.93,1.6],[41.19,2.6],[41.35,1.2],[41.86,1.3],[42.27,1.1],[42.47,3.35],[42.58,1.1],[42.99,0.9],[43.4,0.8],[43.45,5.0],[43.48,0.8],[43.7,1.6],[43.81,1.0],[43.96,2.15]];
const so2CL=[[0,2.45],[0.16,1.95],[0.49,3.95],[0.7,3.8],[0.81,2.3],[1.23,2.2],[1.55,2.7],[1.76,2.3],[1.98,1.6],[2.3,2.55],[2.51,2.2],[2.72,2.45],[3.15,2.2],[3.36,2.1],[3.84,3.1],[4.0,2.2],[4.53,2.1],[4.85,1.85],[5.43,2.55],[5.91,2.2],[6.44,1.95],[6.97,2.1],[7.34,2.7],[7.61,2.1],[8.03,3.5],[8.25,2.2],[8.62,3.4],[8.83,2.3],[9.1,2.1],[9.52,3.0],[9.73,2.1],[10.16,3.0],[10.37,2.3],[10.53,4.0],[10.8,3.75],[11.01,2.45],[11.22,3.5],[11.31,3.55],[11.48,2.9],[11.77,2.8],[12.11,2.6],[12.28,4.65],[12.45,2.55],[12.8,3.9],[13.03,2.8],[13.31,3.1],[13.6,2.6],[13.94,1.8],[14.17,2.2],[14.51,2.7],[15.09,1.8],[15.66,2.55],[15.89,1.9],[16.35,2.7],[16.8,2.55],[17.09,3.65],[17.26,2.2],[17.55,3.8],[17.66,1.7],[18.18,1.9],[18.64,2.45],[19.09,1.8],[19.55,2.2],[20.01,1.7],[20.41,3.1],[20.7,2.0],[21.15,1.7],[21.5,2.55],[21.73,1.7],[22.3,2.35],[22.76,2.2],[23.21,2.45],[23.67,2.0],[23.9,3.2],[24.07,3.35],[24.36,2.2],[24.59,1.55],[25.05,2.35],[25.5,3.45],[25.85,2.45],[26.19,2.3],[26.42,4.0],[26.65,2.6],[26.88,1.7],[27.22,2.0],[27.57,1.45],[28.02,2.35],[28.37,2.0],[28.71,3.55],[29.03,2.7],[29.34,3.0],[29.54,1.75],[29.75,2.6],[29.95,1.95],[30.16,1.4],[30.42,1.85],[30.67,1.85],[30.88,2.25],[31.19,2.05],[31.6,1.5],[31.9,2.25],[32.21,1.85],[32.47,3.0],[32.72,2.8],[33.03,1.75],[33.55,1.6],[33.85,1.4],[34.37,2.15],[34.78,1.5],[35.19,1.4],[35.6,2.8],[35.8,2.05],[36.11,2.4],[36.42,1.75],[36.83,1.95],[37.14,2.5],[37.45,3.0],[37.65,1.85],[38.06,1.4],[38.52,3.45],[38.78,3.1],[39.19,1.95],[39.44,4.75],[39.65,3.9],[39.91,1.95],[40.32,2.25],[40.73,1.85],[41.14,1.75],[41.55,2.4],[41.96,2.05],[42.47,2.15],[42.78,1.95],[43.3,1.4],[43.45,1.0],[43.7,2.05],[43.91,2.6]];

// tick values
const tempTicks=[-20,-10,0,10,20], rhTicks=[20,40,60,80];
const windMajor=[1,10], windMinor=[0.4,0.5,0.6,0.7,0.8,0.9,2,3,4,5,6,7,8,9];
const windSmallLabels={0.4:"4",2:"2",4:"4"};
const pmTicks=[0,40,80,120,160], pmMinor=[20,60,100,140];
const noxTicks=[0,40,80,120], noxMinor=[20,60,100];
const so2Ticks=[2,4,6], so2Minor=[1,3,5,7];
const seriesNames=["BJ","CL"], windNames=["North","South"];

// ---------- layout ----------
const BJC="#FF3586", CLC="#1F6EFF", PMBJ="#FF84B0", WINDC="#FF7FAB";
const T0=Date.UTC(2019,0,30), T1=Date.UTC(2019,2,15);
const td=d=>new Date(T0+d*864e5);
const X0=368, X1=3799, TOPY=165, BOTY=2092;
const svg=d3.select("#c");
const x=d3.scaleUtc().domain([new Date(T0),new Date(T1)]).range([X0,X1]);
const yA=d3.scaleLinear().domain([-22.04,21.73]).range([444,165]);
const yB=d3.scaleLinear().domain([4,97.5]).range([745.5,462.5]);
const yC=d3.scaleLog().domain([0.4,13.4]).range([1108,768]);
const yD=d3.scaleLinear().domain([0,160]).range([1408,1126]);
const yE=d3.scaleLinear().domain([0,120]).range([1755,1453]);
const yF=d3.scaleLinear().domain([0.7,7]).range([2075.75,1776.5]);

// gridlines every 12 h
const halfDays=d3.utcHour.every(12).range(new Date(T0),new Date(T1+1000));
svg.append("g").selectAll("line").data(halfDays).join("line")
 .attr("x1",d=>x(d)).attr("x2",d=>x(d)).attr("y1",TOPY).attr("y2",BOTY)
 .attr("stroke","#bdbdbd").attr("stroke-width",2).attr("stroke-dasharray","3,6");

// time axes
const dayIdx=d=>Math.round((d-T0)/864e5*2)/2;
const majorT=halfDays.filter(d=>{const k=dayIdx(d);return Number.isInteger(k)&&(k-1)%2===0;});
const midT=halfDays.filter(d=>{const k=dayIdx(d);return Number.isInteger(k)&&(k-1)%2!==0;});
const noonT=halfDays.filter(d=>!Number.isInteger(dayIdx(d)));
const fmt=d3.utcFormat("%-m/%-d");
function timeAxis(gen,y){
  const g=svg.append("g").attr("transform",`translate(0,${y})`);
  g.append("g").call(gen(x).tickValues(noonT).tickSize(18).tickSizeOuter(0).tickFormat(""));
  g.append("g").call(gen(x).tickValues(midT).tickSize(28).tickSizeOuter(0).tickFormat(""));
  g.append("g").call(gen(x).tickValues(majorT).tickSize(37).tickSizeOuter(0).tickPadding(28).tickFormat(fmt));
  g.selectAll("path.domain").attr("stroke","#000").attr("stroke-width",3);
  g.selectAll(".tick line").attr("stroke","#000").attr("stroke-width",3);
  g.selectAll(".tick text").attr("font-size",48).attr("font-family","Arial, Liberation Sans, sans-serif").attr("fill","#000");
  return g;
}
timeAxis(d3.axisTop,TOPY);
timeAxis(d3.axisBottom,BOTY);
svg.append("text").attr("x",(X0+X1)/2-2).attr("y",2260).attr("text-anchor","middle").attr("font-size",48).text("date");

// y axes
function yAxis(scale,major,minor,fmtf,opts={}){
  const g=svg.append("g").attr("transform",`translate(${X0},0)`);
  if(minor) g.append("g").call(d3.axisLeft(scale).tickValues(minor).tickSize(opts.minorLen||18).tickSizeOuter(0).tickFormat(opts.minorFmt||""));
  g.append("g").call(d3.axisLeft(scale).tickValues(major).tickSize(opts.majorLen||35).tickSizeOuter(0).tickPadding(opts.pad||19).tickFormat(fmtf||d3.format("d")));
  g.selectAll("path.domain").attr("stroke","#000").attr("stroke-width",3);
  g.selectAll(".tick line").attr("stroke","#000").attr("stroke-width",3);
  g.selectAll(".tick text").attr("font-size",opts.fs||48).attr("font-family","Arial, Liberation Sans, sans-serif").attr("fill","#000");
  return g;
}
yAxis(yA,tempTicks,null);
yAxis(yB,rhTicks,null);
const gc=yAxis(yC,windMajor,windMinor,d3.format("d"),{majorLen:33,pad:4,fs:42,minorLen:20,minorFmt:d=>windSmallLabels[d]||""});
gc.select("g").selectAll(".tick text").attr("font-size",32).attr("x",-25);
const gd=yAxis(yD,pmTicks,pmMinor);
const ge=yAxis(yE,noxTicks,noxMinor);
yAxis(yF,so2Ticks,so2Minor);
// keep the stacked "0" (PM) and "120" (NOx) labels from touching
gd.selectAll(".tick text").filter(d=>d===0).attr("y",-5);
ge.selectAll(".tick text").filter(d=>d===120).attr("y",5);

// y titles (rotated)
function ytitle(yc,lines){
  lines.forEach(([bx,parts])=>{
    const t=svg.append("text").attr("transform",`translate(${bx},${yc}) rotate(-90)`)
      .attr("text-anchor","middle").attr("font-size",48);
    parts.forEach(p=>{
      if(typeof p==="string") t.append("tspan").text(p);
      else t.append("tspan").attr("font-size",p.fs).attr("dy",p.dy).text(p.t);
    });
  });
}
ytitle(298,[[67,["Temp"]],[125,["(°C)"]]]);
ytitle(593,[[66,["RH"]],[127,["(%)"]]]);
ytitle(925,[[78,["Wind Speed"]],[139,["@BJ (m/s)"]]]);
ytitle(1257,[[70,["PM",{t:"2.5",fs:34,dy:11}]],[153,["(μg m",{t:"-3",fs:34,dy:-20},{t:")",fs:48,dy:9}]]]);
ytitle(1590,[[70,["NO",{t:"X",fs:34,dy:11}]],[137,["(ppb)"]]]);
ytitle(1908,[[70,["SO",{t:"2",fs:34,dy:11}]],[137,["(ppb)"]]]);

// panel labels
[["(a)",266],["(b)",541],["(c)",851],["(d)",1184],["(e)",1515],["(f)",1877]].forEach(([s,y])=>
  svg.append("text").attr("x",438).attr("y",y).attr("font-size",72).text(s));

// clip paths
function clip(id,scale){
  const r=scale.range();
  svg.append("clipPath").attr("id",id).append("rect").attr("x",X0).attr("width",X1-X0+4)
   .attr("y",Math.min(r[0],r[1])-4).attr("height",Math.abs(r[0]-r[1])+8);
  return `url(#${id})`;
}
function drawLine(data,scale,color,cp,w=4.5){
  svg.append("path").datum(data).attr("clip-path",cp)
   .attr("fill","none").attr("stroke",color).attr("stroke-width",w).attr("stroke-linejoin","round")
   .attr("d",d3.line().x(d=>x(td(d[0]))).y(d=>scale(d[1])));
}
const cA=clip("ca",yA),cB=clip("cb",yB),cC=clip("cc",yC),cD=clip("cd",yD),cE=clip("ce",yE),cF=clip("cf",yF);
drawLine(tempBJ,yA,BJC,cA); drawLine(tempCL,yA,CLC,cA);
drawLine(rhBJ,yB,BJC,cB); drawLine(rhCL,yB,CLC,cB);
drawLine(pmCL,yD,CLC,cD); drawLine(pmBJ,yD,PMBJ,cD,5);
drawLine(noxCL,yE,CLC,cE); drawLine(noxBJ,yE,BJC,cE);
drawLine(so2CL,yF,CLC,cF); drawLine(so2BJ,yF,BJC,cF);

// wind scatter
svg.append("g").attr("clip-path",cC).selectAll("circle").data(windObs).join("circle")
 .attr("cx",d=>x(td(d[0]))).attr("cy",d=>yC(d[1])).attr("r",11)
 .attr("fill",d=>d[2]?WINDC:"none").attr("stroke",WINDC).attr("stroke-width",d=>d[2]?0:3);

// legends
const lg=svg.append("g");
[[seriesNames[0],BJC,1765],[seriesNames[1],CLC,1977]].forEach(([n,c,x0])=>{
  lg.append("line").attr("x1",x0).attr("x2",x0+96).attr("y1",218).attr("y2",218).attr("stroke",c).attr("stroke-width",5);
  lg.append("text").attr("x",x0+120).attr("y",235).attr("font-size",48).text(n);
});
[[windNames[0],0,3167],[windNames[1],1,3430]].forEach(([n,f,cx])=>{
  lg.append("circle").attr("cx",cx).attr("cy",811).attr("r",16).attr("fill",f?WINDC:"none").attr("stroke",WINDC).attr("stroke-width",f?0:3);
  lg.append("text").attr("x",cx+69).attr("y",828).attr("font-size",48).text(n);
});
</script></body></html>
